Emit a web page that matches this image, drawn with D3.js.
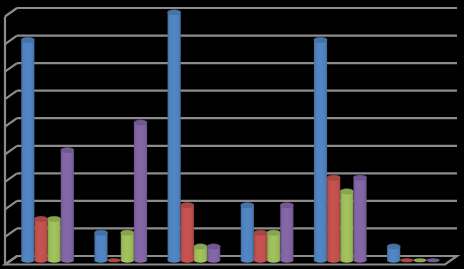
<!DOCTYPE html>
<html>
<head>
<meta charset="utf-8">
<script src="https://cdn.jsdelivr.net/npm/d3@7"></script>
<style>
  html, body { margin: 0; padding: 0; background: #000; }
  svg { display: block; }
</style>
</head>
<body>
<svg id="chart" width="464" height="269"></svg>
<script>
// ---- data ----
const categories = ["1", "2", "3", "4", "5", "6"];
const seriesNames = ["Series 1", "Series 2", "Series 3", "Series 4"];
const series1 = [8, 1, 9, 2, 8, 0.5];
const series2 = [1.5, 0, 2, 1, 3, 0];
const series3 = [1.5, 1, 0.5, 1, 2.5, 0];
const series4 = [4, 5, 0.5, 2, 3, 0];
const seriesColors = ["#4f81bd", "#c0504d", "#9bbb59", "#8064a2"];
const gridValues = [0, 1, 2, 3, 4, 5, 6, 7, 8, 9];

const allSeries = [series1, series2, series3, series4];

// ---- layout ----
const depthX = 12, depthY = 8.5;       // oblique depth offset of the 3D box
const frontLeft = 5, frontRight = 444; // front plane x-extent
const svg = d3.select("#chart");

const x0 = d3.scaleBand().domain(categories)
  .range([frontLeft, frontRight]).paddingInner(0.28).paddingOuter(0.14);
const x1 = d3.scaleBand().domain(seriesNames).range([0, x0.bandwidth()]).padding(0);
const y = d3.scaleLinear().domain([0, 9]).range([256, 8]); // back wall

const gridColor = "#8c8c8c";
const defs = svg.append("defs");

seriesNames.forEach((s, i) => {
  const c = d3.color(seriesColors[i]);
  const g = defs.append("linearGradient").attr("id", "cyl" + i)
    .attr("x1", "0%").attr("x2", "100%").attr("y1", "0%").attr("y2", "0%");
  g.append("stop").attr("offset", "0%").attr("stop-color", c.darker(0.5));
  g.append("stop").attr("offset", "15%").attr("stop-color", c);
  g.append("stop").attr("offset", "45%").attr("stop-color", c.brighter(0.12));
  g.append("stop").attr("offset", "82%").attr("stop-color", c);
  g.append("stop").attr("offset", "100%").attr("stop-color", c.darker(0.5));
});

// ---- walls & floor ----
const walls = svg.append("g").attr("fill", "none").attr("stroke", gridColor).attr("stroke-width", 2.2);

walls.append("path")
  .attr("d", `M${frontLeft},${y(0) + depthY} L${frontLeft + depthX},${y(0)} L${frontRight + depthX + 1},${y(0)} L${frontRight + 1},${y(0) + depthY} Z`)
  .attr("fill", "#000");

gridValues.forEach(v => {
  walls.append("line")
    .attr("x1", frontLeft + depthX).attr("x2", frontRight + depthX + 1)
    .attr("y1", y(v)).attr("y2", y(v));
  walls.append("line")
    .attr("x1", frontLeft).attr("y1", y(v) + depthY)
    .attr("x2", frontLeft + depthX).attr("y2", y(v));
});
walls.append("line")
  .attr("x1", frontLeft).attr("x2", frontLeft)
  .attr("y1", y(9) + depthY).attr("y2", y(0) + depthY);

// ---- cylinders ----
const midX = depthX / 2, midY = depthY / 2;
const baseY = y(0) + midY;
const bars = svg.append("g");

categories.forEach((cat, ci) => {
  seriesNames.forEach((s, si) => {
    const v = allSeries[si][ci];
    const bx = x0(cat) + x1(s) + midX;
    const w = x1.bandwidth();
    const cx = bx + w / 2, rx = w / 2, ry = 2.6;
    const topY = y(v) + midY;
    const c = d3.color(seriesColors[si]);
    const g = bars.append("g");
    if (v <= 0.001) {
      g.append("ellipse").attr("cx", cx).attr("cy", baseY).attr("rx", rx).attr("ry", ry * 0.8)
        .attr("fill", c.darker(0.3));
      return;
    }
    g.append("ellipse").attr("cx", cx).attr("cy", baseY).attr("rx", rx).attr("ry", ry)
      .attr("fill", `url(#cyl${si})`);
    g.append("rect").attr("x", bx).attr("y", topY).attr("width", w).attr("height", baseY - topY)
      .attr("fill", `url(#cyl${si})`);
    g.append("ellipse").attr("cx", cx).attr("cy", topY).attr("rx", rx).attr("ry", ry)
      .attr("fill", c.darker(0.35)).attr("stroke", c.darker(0.6)).attr("stroke-width", 0.5);
  });
});
</script>
</body>
</html>
